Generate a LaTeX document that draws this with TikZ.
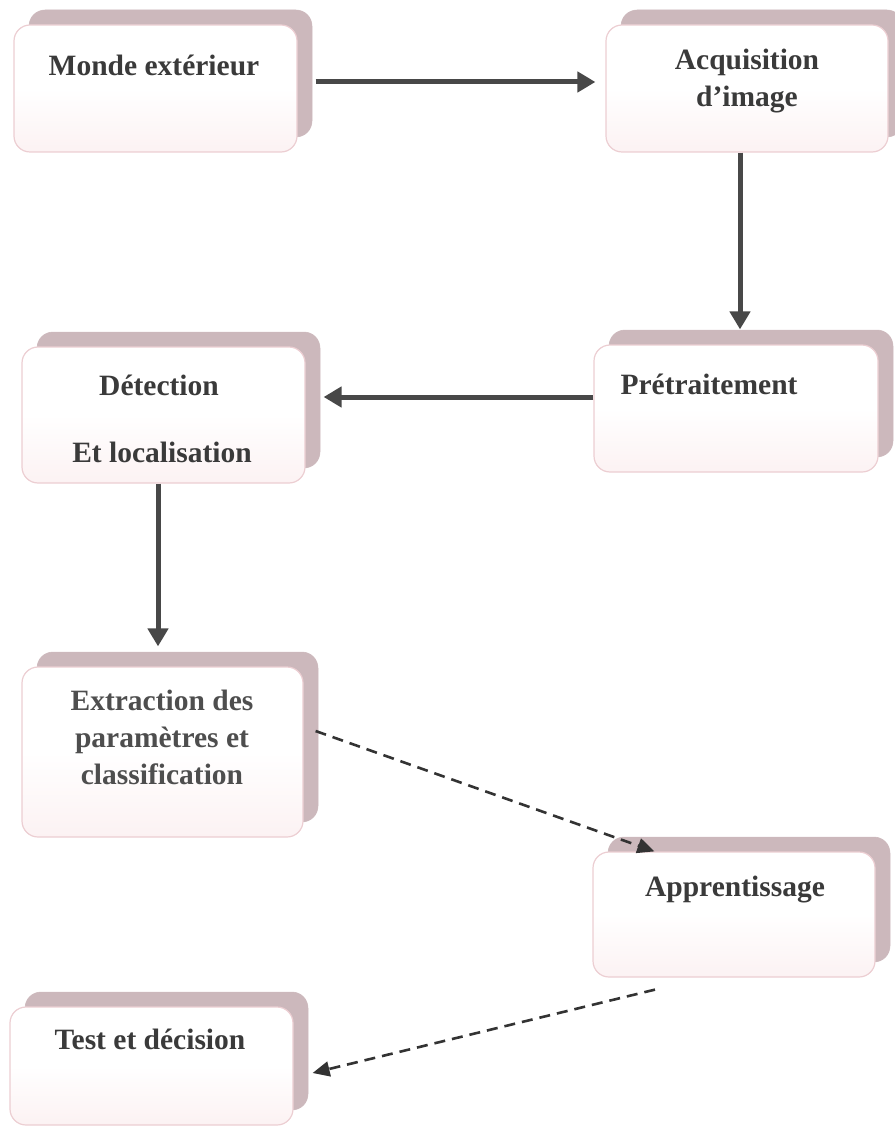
\documentclass[tikz,border=0pt]{standalone}
\usepackage{fontspec}
\setmainfont{Liberation Serif}
\usetikzlibrary{arrows.meta,shadows,calc}
\definecolor{shadowc}{RGB}{204,184,188}
\definecolor{borderc}{RGB}{236,206,210}
\definecolor{pinkc}{RGB}{252,242,243}
\definecolor{txtc}{RGB}{58,58,58}
\definecolor{arrc}{RGB}{72,72,72}
\begin{document}
\begin{tikzpicture}[x=1pt,y=-1pt,
  card/.style={draw=borderc, line width=1.2pt, rounded corners=16pt,
    top color=white, bottom color=pinkc, middle color=white,
    inner sep=0pt,
    copy shadow={shadow xshift=15pt, shadow yshift=15pt, fill=shadowc, draw=shadowc, line width=0.5pt}},
  lbl/.style={font=\fontsize{29.5}{37}\selectfont\bfseries, text=txtc, align=center, inner sep=0pt},
  solidarrow/.style={draw=arrc, line width=5pt, -{Triangle[length=18pt,width=20pt]}},
  dasharrow/.style={draw=black!80, line width=2.6pt, dash pattern=on 11pt off 7pt, -{Triangle[length=17pt,width=15pt]}}
]
\useasboundingbox (0,0) rectangle (894,1131);
% boxes
\node[card, minimum width=283pt, minimum height=127pt] (b1) at (155.5,88.5) {};
\node[card, minimum width=282pt, minimum height=127pt] (b2) at (747,88.5) {};
\node[card, minimum width=284pt, minimum height=127pt] (b3) at (736,408.5) {};
\node[card, minimum width=283pt, minimum height=136pt] (b4) at (163.5,415) {};
\node[card, minimum width=281pt, minimum height=170pt] (b5) at (162.5,752) {};
\node[card, minimum width=282pt, minimum height=125pt] (b6) at (734,914.5) {};
\node[card, minimum width=283pt, minimum height=118pt] (b7) at (151.5,1066) {};
% labels
\node[lbl] (t1) at (154,65) {Monde extérieur};
\node[lbl] (t2) at (747,81) {Acquisition\\d’image};
\node[lbl] (t3) at (709,384) {Prétraitement};
\node[lbl] (t4a) at (159,385) {Détection};
\node[lbl] (t4b) at (162,452) {Et localisation};
\node[lbl, text=txtc!90] (t5) at (162,737) {Extraction des\\paramètres et\\classification};
\node[lbl] (t6) at (735,890) {Apprentissage};
\node[lbl] (t7) at (150,1039) {Test et décision};
% connectors
\draw[solidarrow] ([xshift=18pt,yshift=6.5pt]b1.east) -- ([xshift=-10pt,yshift=6.5pt]b2.west);
\draw[solidarrow] ([xshift=-7pt]b2.south) -- ([xshift=4pt,yshift=15pt]b3.north);
\draw[solidarrow] ([yshift=11.5pt]b3.west) -- ([xshift=18pt,yshift=18pt]b4.east);
\draw[solidarrow] ([xshift=-5.5pt]b4.south) -- ([xshift=-4.5pt,yshift=20pt]b5.north);
\draw[dasharrow] ([xshift=12pt,yshift=21pt]b5.east) -- ([xshift=62pt]b6.north west);
\draw[dasharrow] ([xshift=-79pt,yshift=-12pt]b6.south) -- ([xshift=19pt,yshift=-7pt]b7.east);
\end{tikzpicture}
\end{document}
